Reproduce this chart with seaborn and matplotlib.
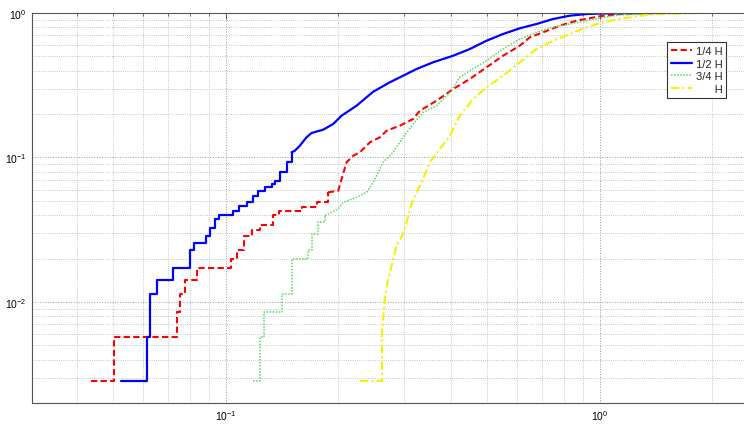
import numpy as np
import matplotlib
matplotlib.use("Agg")
import matplotlib.pyplot as plt
import seaborn as sns
from matplotlib.ticker import LogLocator, NullFormatter, LogFormatterSciNotation

# Empirical CDFs for four heights; the sparse lower part is drawn as stairs,
# the dense upper part as a traced line.
labels = ["1/4 H", "1/2 H", "3/4 H", "      H"]

quarter_step_x = [0.0435, 0.0503, 0.0742, 0.0756, 0.0777, 0.0835, 0.1031, 0.1068,
                  0.1117, 0.1172, 0.1233, 0.1338, 0.1386, 0.1594, 0.1748, 0.1877]
quarter_step_y = [0.00286, 0.00571, 0.00857, 0.0114, 0.0143, 0.0171, 0.0200, 0.0229,
                  0.0286, 0.0314, 0.0343, 0.0400, 0.0429, 0.0457, 0.0490, 0.0574]
quarter_tail_x = [0.1997, 0.2039, 0.2102, 0.2190, 0.2282, 0.2427, 0.2582, 0.2690,
                  0.2918, 0.3168, 0.3302, 0.3660, 0.4054, 0.4492, 0.4979, 0.5512,
                  0.6109, 0.6499, 0.7055, 0.7817, 0.8663, 1.0, 1.131, 1.447]
quarter_tail_y = [0.0589, 0.0710, 0.0926, 0.1029, 0.1086, 0.1274, 0.1380, 0.1533,
                  0.1660, 0.1847, 0.2108, 0.2472, 0.2979, 0.3494, 0.4209, 0.5065,
                  0.5938, 0.6788, 0.7354, 0.8167, 0.8845, 0.9488, 0.984, 1.0]

half_step_x = [0.0523, 0.0615, 0.0626, 0.0654, 0.0724, 0.0801, 0.0823, 0.0882,
               0.0906, 0.0935, 0.0958, 0.1046, 0.1085, 0.1136, 0.1183, 0.1220,
               0.1272, 0.1325, 0.1352, 0.1394, 0.1453, 0.1499]
half_step_y = [0.00286, 0.00571, 0.0114, 0.0143, 0.0171, 0.0229, 0.0257, 0.0286,
               0.0325, 0.0375, 0.0400, 0.0428, 0.0459, 0.0490, 0.0544, 0.0589,
               0.0628, 0.0655, 0.0691, 0.0790, 0.0926, 0.1086]
half_tail_x = [0.1529, 0.1577, 0.1643, 0.1695, 0.1820, 0.1936, 0.2039, 0.2236,
               0.2477, 0.2745, 0.2979, 0.3236, 0.3583, 0.4054, 0.4492, 0.4979,
               0.5512, 0.6109, 0.6771, 0.7499, 0.8313, 0.9213, 1.019, 1.256]
half_tail_y = [0.1114, 0.1207, 0.1380, 0.1478, 0.1557, 0.1705, 0.1947, 0.2283,
               0.2853, 0.3315, 0.3683, 0.4097, 0.4559, 0.5065, 0.5633, 0.6430,
               0.7155, 0.7837, 0.8392, 0.9088, 0.958, 0.984, 0.992, 1.0]

three_step_x = [0.1183, 0.1233, 0.1268, 0.1409, 0.1499, 0.1660, 0.1695, 0.1765, 0.1839]
three_step_y = [0.00286, 0.00571, 0.00857, 0.0114, 0.0200, 0.0229, 0.0296, 0.0356, 0.0396]
three_tail_x = [0.1997, 0.2059, 0.2236, 0.2377, 0.2477, 0.2634, 0.2801, 0.2979,
                0.3168, 0.3369, 0.3660, 0.3972, 0.4223, 0.4492, 0.4979, 0.5512,
                0.6109, 0.6771, 0.7499, 0.8313, 0.9213, 1.0205, 1.131, 1.447, 1.773]
three_tail_y = [0.0440, 0.0490, 0.0530, 0.0574, 0.0673, 0.0926, 0.1086, 0.1380,
                0.1705, 0.2055, 0.2283, 0.2826, 0.3589, 0.3989, 0.4676, 0.5633,
                0.6606, 0.7354, 0.7966, 0.8392, 0.8845, 0.9337, 0.9687, 0.992, 1.0]

full_step_x = [0.2282, 0.2608]
full_step_y = [0.00286, 0.00571]
full_tail_x = [0.2661, 0.2716, 0.2773, 0.2860, 0.2979, 0.3042, 0.3137, 0.3236,
               0.3338, 0.3511, 0.3734, 0.3972, 0.4223, 0.4583, 0.4979, 0.5512,
               0.6109, 0.6771, 0.7499, 0.8313, 0.9213, 1.0205, 1.131, 1.2537,
               1.3884, 1.851]
full_tail_y = [0.0105, 0.0144, 0.0178, 0.0245, 0.0296, 0.0356, 0.0477, 0.0574,
               0.0673, 0.0926, 0.1145, 0.1416, 0.1947, 0.2540, 0.3060, 0.3683,
               0.4559, 0.5633, 0.6430, 0.7155, 0.7966, 0.8621, 0.9088, 0.9488,
               0.9795, 1.0]

sns.set_style("white")
plt.rcParams["font.family"] = ["Liberation Sans", "DejaVu Sans"]
plt.rcParams["mathtext.fontset"] = "custom"
plt.rcParams["mathtext.rm"] = "Liberation Sans"
plt.rcParams["mathtext.it"] = "Liberation Sans:italic"
plt.rcParams["mathtext.bf"] = "Liberation Sans:bold"

fig = plt.figure(figsize=(7.44, 4.27), dpi=100)
ax = fig.add_axes([32 / 744, 23 / 427, 712 / 744, 390 / 427])
ax.set_xscale("log")
ax.set_yscale("log")

series = [
    (quarter_step_x, quarter_step_y, quarter_tail_x, quarter_tail_y,
     "#ff0000", (0, (3, 1.6)), 1.5),
    (half_step_x, half_step_y, half_tail_x, half_tail_y,
     "#0000ff", "-", 1.6),
    (three_step_x, three_step_y, three_tail_x, three_tail_y,
     "#55dd55", (0, (1, 1)), 1.1),
    (full_step_x, full_step_y, full_tail_x, full_tail_y,
     "#f5f000", (0, (4, 1.5, 1, 1.5)), 1.5),
]

handles = []
for sx, sy, tx, ty, color, ls, lw in series:
    sns.lineplot(x=sx, y=sy, ax=ax, color=color, linestyle=ls, linewidth=lw,
                 drawstyle="steps-post", estimator=None, sort=False, legend=False)
    handles.append(ax.lines[-1])
    sns.lineplot(x=[sx[-1]] + tx, y=[sy[-1]] + ty, ax=ax, color=color,
                 linestyle=ls, linewidth=lw, estimator=None, sort=False,
                 legend=False)

ax.set_xlim(0.0303, 2.43)
ax.set_ylim(0.002, 1.0)

for axis in (ax.xaxis, ax.yaxis):
    axis.set_major_locator(LogLocator(base=10, numticks=20))
    axis.set_minor_locator(LogLocator(base=10, subs=np.arange(2, 10), numticks=100))
    axis.set_major_formatter(LogFormatterSciNotation())
    axis.set_minor_formatter(NullFormatter())

ax.grid(True, which="major", color="#9a9a9a", linestyle=":", linewidth=0.7)
ax.grid(True, which="minor", color="#b5b5b5", linestyle=":", linewidth=0.6)
ax.set_axisbelow(True)

ax.tick_params(which="both", direction="in", top=True, right=False,
               color="#555555", labelsize=7.5, labelcolor="black")
ax.tick_params(which="major", length=4, width=0.7, pad=4)
ax.tick_params(which="minor", length=2.5, width=0.6)

for name, sp in ax.spines.items():
    sp.set_color("#555555")
    sp.set_linewidth(0.8)
ax.spines["right"].set_visible(False)
ax.set_xlabel("")
ax.set_ylabel("")

leg = ax.legend(handles, labels, loc="upper right", bbox_to_anchor=(0.975, 0.926),
                fontsize=8, frameon=True, fancybox=False, framealpha=1,
                edgecolor="#333333", borderaxespad=0, handlelength=1.9,
                handletextpad=0.3, labelspacing=0.25, borderpad=0.35)
leg.get_frame().set_linewidth(0.8)

fig.savefig("out.png", dpi=100)
